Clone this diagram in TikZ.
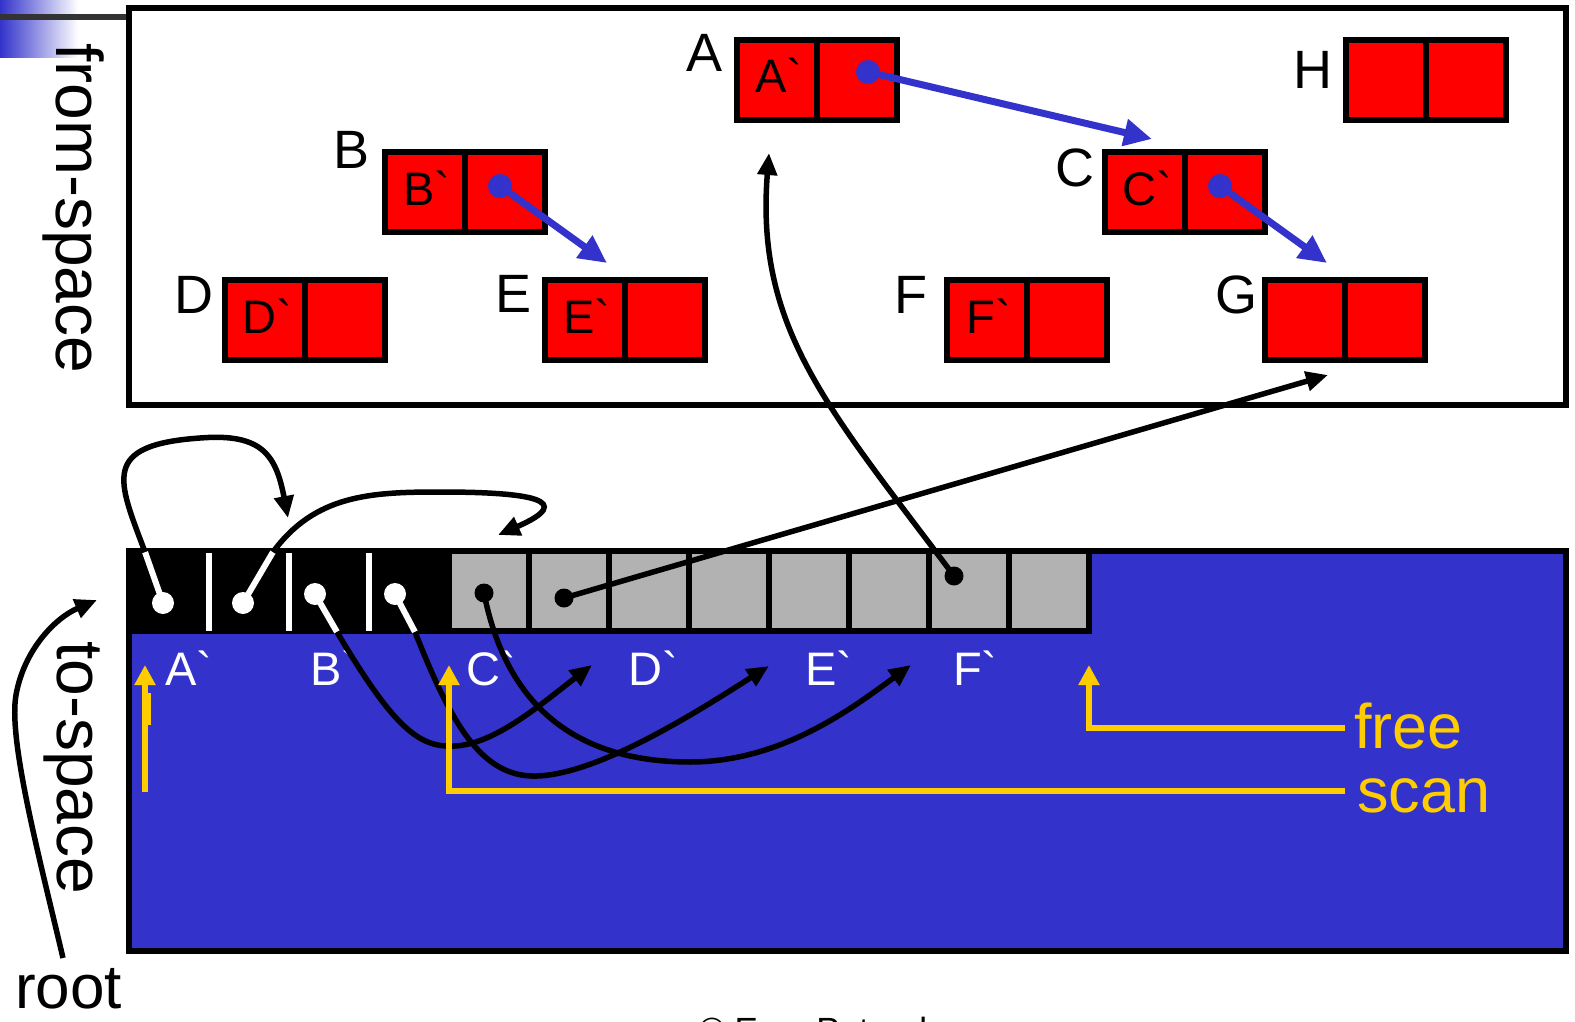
\documentclass[tikz,border=0pt]{standalone}
\usepackage{fontspec}
\setmainfont{Liberation Sans}
\usetikzlibrary{arrows.meta}
\definecolor{gcblue}{HTML}{3333CC}
\definecolor{gcred}{HTML}{FF0000}
\definecolor{gcgray}{HTML}{B2B2B2}
\definecolor{gcyel}{HTML}{FFCC00}
\definecolor{gcdark}{HTML}{333333}
\begin{document}
\begin{tikzpicture}[x=1pt,y=-1pt,
 cellr/.style={draw=black, line width=6pt, fill=gcred, minimum width=80pt, minimum height=80pt, inner sep=0pt, outer sep=0pt},
 cellg/.style={draw=black, line width=6pt, fill=gcgray, minimum width=80pt, minimum height=80pt, inner sep=0pt, outer sep=0pt},
 biglbl/.style={font=\fontsize{54}{60}\selectfont, anchor=base west, inner sep=0pt},
 inlbl/.style={font=\fontsize{47}{52}\selectfont, anchor=base, inner sep=0pt},
 tolbl/.style={font=\fontsize{47}{52}\selectfont, text=white, anchor=base west, inner sep=0pt},
 sidelbl/.style={font=\fontsize{66}{72}\selectfont, anchor=base west, inner sep=0pt},
 yellbl/.style={font=\fontsize{63}{70}\selectfont, text=gcyel, anchor=base west, inner sep=0pt},
 bptr/.style={draw=gcblue, line width=7pt, -{Triangle[length=28pt,width=26pt]}},
 kptr/.style={draw=black, line width=5.5pt, -{Triangle[length=22pt,width=19pt]}},
 wstem/.style={draw=white, line width=6pt},
 yptr/.style={draw=gcyel, line width=6pt, -{Triangle[length=20pt,width=20pt]}},
 bdot/.style={circle, fill=gcblue, minimum size=24pt, inner sep=0pt},
 wdot/.style={circle, fill=white, minimum size=22pt, inner sep=0pt},
 kdot/.style={circle, fill=black, minimum size=19pt, inner sep=0pt},
]
\useasboundingbox (0,0) rectangle (1575,1022);
\clip (0,0) rectangle (1575,1022);

% corner decoration
\shade[left color=gcblue, right color=white] (0,0) rectangle (78,58);
\draw[gcdark, line width=6pt] (0,17) -- (129,17);

% ---------- from-space ----------
\draw[line width=6pt] (129,8) rectangle (1566,405);
\node[sidelbl, rotate=-90] (fromlbl) at (56,43) {from-space};

% boxes
\node[cellr] (Aa) at (777,80) {};   \node[cellr] (Ab) at (857,80) {};
\node[cellr] (Ba) at (425,192) {};  \node[cellr] (Bb) at (505,192) {};
\node[cellr] (Ca) at (1145,192) {}; \node[cellr] (Cb) at (1225,192) {};
\node[cellr] (Da) at (265,320) {};  \node[cellr] (Db) at (345,320) {};
\node[cellr] (Ea) at (585,320) {};  \node[cellr] (Eb) at (665,320) {};
\node[cellr] (Fa) at (987,320) {};  \node[cellr] (Fb) at (1067,320) {};
\node[cellr] (Ga) at (1305,320) {}; \node[cellr] (Gb) at (1385,320) {};
\node[cellr] (Ha) at (1386,80) {};  \node[cellr] (Hb) at (1466,80) {};

% inner labels
\node[inlbl] (Ain) at (779,93) {A\textasciigrave};
\node[inlbl] (Bin) at (427,205) {B\textasciigrave};
\node[inlbl] (Cin) at (1147,205) {C\textasciigrave};
\node[inlbl] (Din) at (267,333) {D\textasciigrave};
\node[inlbl] (Ein) at (587,333) {E\textasciigrave};
\node[inlbl] (Fin) at (989,333) {F\textasciigrave};

% big labels
\node[biglbl] (Alb) at (686,72) {A};
\node[biglbl] (Blb) at (333,169) {B};
\node[biglbl] (Clb) at (1055,186) {C};
\node[biglbl] (Dlb) at (174,313) {D};
\node[biglbl] (Elb) at (495,312) {E};
\node[biglbl] (Flb) at (894,313) {F};
\node[biglbl] (Glb) at (1215,313) {G};
\node[biglbl] (Hlb) at (1293,89) {H};

% blue pointers
\coordinate (Atip) at (1152,139);
\coordinate (Btip) at (607,263);
\coordinate (Ctip) at (1327,263);
\node[bdot] (Ad) at (868,72) {};
\node[bdot] (Bd) at (500,186) {};
\node[bdot] (Cd) at (1220,186) {};
\draw[bptr] (Ad.center) -- (Atip);
\draw[bptr] (Bd.center) -- (Btip);
\draw[bptr] (Cd.center) -- (Ctip);

% ---------- to-space ----------
\draw[fill=gcblue, line width=6pt] (129,551) rectangle (1566,951);
\fill[black] (126,548) rectangle (452,634);
\node[cellg] (g1) at (489,591) {};
\node[cellg] (g2) at (569,591) {};
\node[cellg] (g3) at (649,591) {};
\node[cellg] (g4) at (729,591) {};
\node[cellg] (g5) at (809,591) {};
\node[cellg] (g6) at (889,591) {};
\node[cellg] (g7) at (969,591) {};
\node[cellg] (g8) at (1049,591) {};
\draw[white, line width=6pt] (209,553) -- (209,631);
\draw[white, line width=6pt] (289,553) -- (289,631);
\draw[white, line width=6pt] (369,553) -- (369,631);

\node[sidelbl, rotate=-90] (tolbl) at (57,641) {to-space};
\node[font=\fontsize{62}{70}\selectfont, anchor=base west, inner sep=0pt] (root) at (15,1008) {root};
\node[font=\fontsize{35}{40}\selectfont, anchor=base west, inner sep=0pt] (copy) at (699,1042) {© Erez Petrank};

% white labels
\node[tolbl] (tA) at (165,685) {A\textasciigrave};
\node[tolbl] (tB) at (310,685) {B\textasciigrave};
\node[tolbl] (tC) at (466,685) {C\textasciigrave};
\node[tolbl] (tD) at (628,685) {D\textasciigrave};
\node[tolbl] (tE) at (805,685) {E\textasciigrave};
\node[tolbl] (tF) at (953,685) {F\textasciigrave};

% root pointer
\coordinate (rootS) at (63,958);
\coordinate (rootT) at (97,600);
\draw[kptr] (rootS) .. controls (40,860) and (8,740) .. (16,695) .. controls (24,650) and (55,618) .. (rootT);

% pointers from to-space cells
\coordinate (w1) at (163,603); \coordinate (w1e) at (145,552);
\coordinate (w2) at (243,603); \coordinate (w2e) at (273,552);
\coordinate (w3) at (315,594); \coordinate (w3e) at (337,632);
\coordinate (w4) at (395,594); \coordinate (w4e) at (415,632);
\coordinate (t1) at (288,518);
\coordinate (t2) at (498,535);
\coordinate (t3) at (592,665);
\coordinate (t4) at (769,666);
\coordinate (t5) at (911,665);
\coordinate (t6) at (1328,375);
\coordinate (t7) at (769,153);

\draw[wstem] (w1) -- (w1e);
\draw[wstem] (w2) -- (w2e);
\draw[wstem] (w3) -- (w3e);
\draw[wstem] (w4) -- (w4e);
\node[wdot] (wd1) at (w1) {};
\node[wdot] (wd2) at (w2) {};
\node[wdot] (wd3) at (w3) {};
\node[wdot] (wd4) at (w4) {};

\draw[kptr] (w1e) .. controls (118,480) and (100,445) .. (200,438) .. controls (262,433) and (276,455) .. (t1);
\draw[kptr] (w2e) .. controls (315,495) and (370,492) .. (440,492) .. controls (530,492) and (578,500) .. (t2);
\draw[kptr] (w3e) .. controls (395,730) and (420,748) .. (455,746) .. controls (495,744) and (540,705) .. (t3);
\draw[kptr] (w4e) .. controls (450,720) and (480,778) .. (537,776) .. controls (600,774) and (700,710) .. (t4);

\node[kdot] (kd1) at (484,593) {};
\node[kdot] (kd2) at (564,598) {};
\node[kdot] (kd3) at (954,576) {};
\draw[kptr] (kd1.center) .. controls (505,700) and (570,762) .. (690,762) .. controls (780,762) and (850,710) .. (t5);
\draw[kptr] (kd2.center) -- (t6);
\draw[kptr] (kd3.center) .. controls (830,410) and (755,330) .. (t7);

% yellow markers
\coordinate (ya1) at (145,792); \coordinate (ya2) at (145,665);
\draw[yptr] (ya1) -- (ya2);
\fill[gcyel] (145,693) rectangle (151,725);
\coordinate (scanS) at (1345,791); \coordinate (scanT) at (449,665);
\draw[yptr] (scanS) -| (scanT);
\coordinate (freeS) at (1345,728); \coordinate (freeT) at (1089,665);
\draw[yptr] (freeS) -| (freeT);
\node[yellbl] (freelbl) at (1354,748) {free};
\node[yellbl] (scanlbl) at (1357,812) {scan};
\end{tikzpicture}
\end{document}
